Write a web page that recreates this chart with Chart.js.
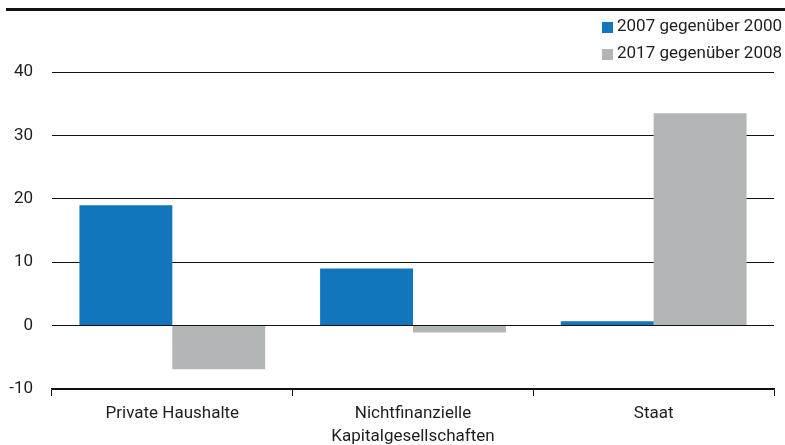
<!DOCTYPE html>
<html>
<head>
<meta charset="utf-8">
<script src="https://cdn.jsdelivr.net/npm/chart.js@4.4.0/dist/chart.umd.min.js"></script>
<style>
  html, body { margin: 0; padding: 0; background: #fff; }
  #wrap { width: 785px; height: 445px; position: relative; }
</style>
</head>
<body>
<div id="wrap"><canvas id="mycanvas"></canvas></div>
<script>
// data
var categories = ['Private Haushalte', ['Nichtfinanzielle', 'Kapitalgesellschaften'], 'Staat'];
var series1Label = '2007 gegenüber 2000';
var series1 = [19.0, 9.0, 0.7];
var series2Label = '2017 gegenüber 2008';
var series2 = [-6.9, -1.1, 33.5];
var yMin = -10, yMax = 40, yStep = 10;

var blue = '#1276bd';
var grey = '#b2b5b5';
var ink = '#1e1e1e';
var fontFamily = 'Roboto, "Liberation Sans", sans-serif';

// thick rule at the top + legend in two rows on the right
var decor = {
	id: 'decor',
	afterDraw: function(chart) {
		var c = chart.ctx;
		c.save();
		c.fillStyle = '#111';
		c.fillRect(6, 8, 779, 3);

		c.font = '17px ' + fontFamily;
		c.textBaseline = 'middle';
		c.textAlign = 'left';
		chart.data.datasets.forEach(function(ds, i) {
			var y = 27 + i * 27;
			c.fillStyle = ds.backgroundColor;
			c.fillRect(602, y - 5, 11, 11);
			c.fillStyle = ink;
			c.fillText(ds.label, 617, y);
		});
		c.restore();
	}
};

var ctx = document.getElementById('mycanvas');

new Chart(ctx, {
	type: 'bar',
	data: {
		labels: categories,
		datasets: [
			{ label: series1Label, data: series1, backgroundColor: blue },
			{ label: series2Label, data: series2, backgroundColor: grey }
		]
	},
	options: {
		responsive: true,
		maintainAspectRatio: false,
		animation: false,
		datasets: { bar: { categoryPercentage: 0.772, barPercentage: 1.0 } },
		layout: { padding: { top: 72, right: 11, bottom: 0, left: 0 } },
		plugins: {
			legend: { display: false },
			title: { display: false },
			tooltip: { enabled: false }
		},
		scales: {
			x: {
				grid: { display: true, drawOnChartArea: false, drawTicks: true, tickLength: 7, color: '#111', lineWidth: 1 },
				border: { display: true, color: '#111', width: 1.5 },
				ticks: { color: ink, font: { family: fontFamily, size: 17, lineHeight: 1.35 }, padding: 6, maxRotation: 0, autoSkip: false },
				afterFit: function(scale) { scale.height = 56; }
			},
			y: {
				min: yMin,
				max: yMax,
				grid: { color: '#111', lineWidth: 1, drawTicks: false },
				border: { display: false },
				ticks: { stepSize: yStep, color: ink, font: { family: fontFamily, size: 17 }, padding: 19 },
				afterFit: function(scale) { scale.width = 52; }
			}
		}
	},
	plugins: [decor]
});
</script>
</body>
</html>
